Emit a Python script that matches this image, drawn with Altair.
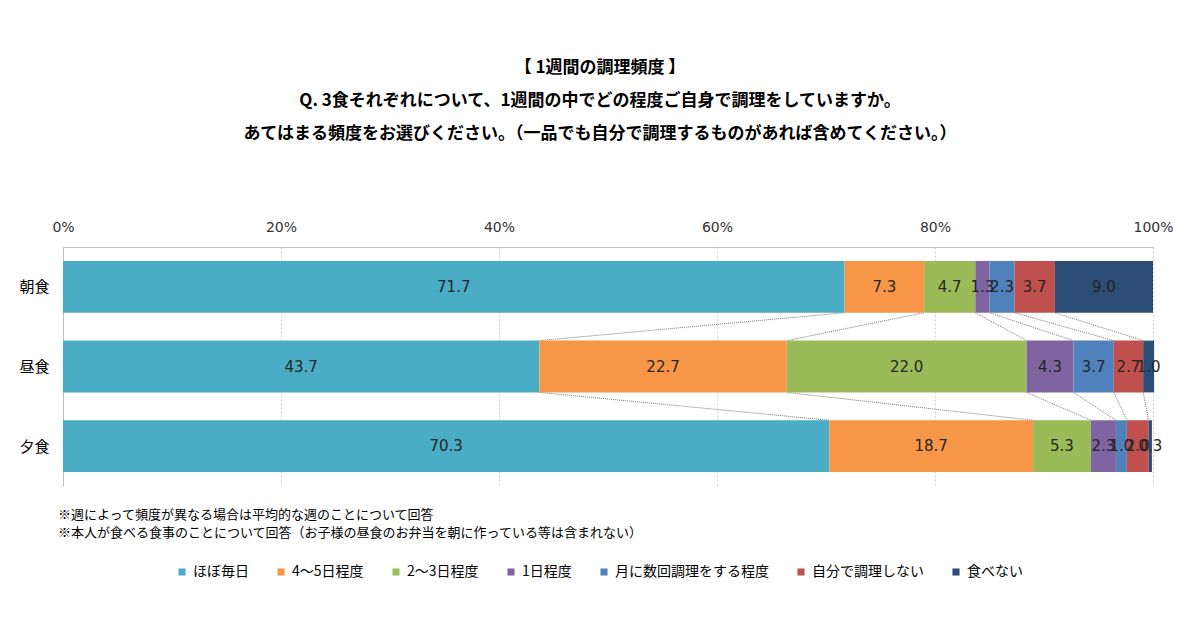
import altair as alt
import pandas as pd
import numpy as np

meals = ["朝食", "昼食", "夕食"]
categories = ["ほぼ毎日", "4～5日程度", "2～3日程度", "1日程度", "月に数回調理をする程度", "自分で調理しない", "食べない"]
colors = ["#4BACC6", "#F79646", "#9BBB59", "#8064A2", "#4F81BD", "#C0504D", "#2C4D75"]
breakfast = [71.7, 7.3, 4.7, 1.3, 2.3, 3.7, 9.0]
lunch = [43.7, 22.7, 22.0, 4.3, 3.7, 2.7, 1.0]
dinner = [70.3, 18.7, 5.3, 2.3, 1.0, 2.0, 0.3]
series = [breakfast, lunch, dinner]

title_lines = [
    "【 1週間の調理頻度 】",
    "Q. 3食それぞれについて、1週間の中でどの程度ご自身で調理をしていますか。",
    "あてはまる頻度をお選びください。（一品でも自分で調理するものがあれば含めてください。）",
]
notes = [
    "※週によって頻度が異なる場合は平均的な週のことについて回答",
    "※本人が食べる食事のことについて回答（お子様の昼食のお弁当を朝に作っている等は含まれない）",
]

HALF = 0.325
rows = []
for i, (m, vals) in enumerate(zip(meals, series)):
    for j, (c, v) in enumerate(zip(categories, vals)):
        rows.append({"meal": m, "row": i, "cat": c, "order": j, "value": v})
df = pd.DataFrame(rows)

# connectors between consecutive bars at the same cumulative boundary
con = []
for i in range(len(series) - 1):
    a = np.cumsum(series[i])
    b = np.cumsum(series[i + 1])
    for k in range(len(categories) - 1):
        con.append({"x": a[k], "x2": b[k], "y": i + HALF, "y2": i + 1 - HALF})
cdf = pd.DataFrame(con)

JP = "Noto Sans CJK JP"
NUM = "DejaVu Sans"

yscale = alt.Scale(domain=[-0.5, 2.5], reverse=True, nice=False, zero=False)
xscale = alt.Scale(domain=[0, 100], nice=False)

label_expr = "datum.value == 0 ? '朝食' : datum.value == 1 ? '昼食' : '夕食'"
xaxis = alt.Axis(orient="top", values=[0, 20, 40, 60, 80, 100],
                 labelExpr="datum.value + '%'", title=None, ticks=False,
                 labelFlush=False, labelPadding=13, labelFont=NUM, labelFontSize=14,
                 labelColor="#333333", domain=True, domainColor="#bfbfbf",
                 grid=True, gridColor="#d0d0d0", gridDash=[2, 2])
yaxis = alt.Axis(values=[0, 1, 2], labelExpr=label_expr, title=None,
                 ticks=False, labelPadding=14, labelFont=JP, labelFontSize=15,
                 labelColor="#000000", grid=False, domainColor="#bfbfbf")

base = alt.Chart(df).transform_window(
    end="sum(value)", groupby=["meal"], sort=[alt.SortField("order")], frame=[None, 0]
).transform_calculate(
    start="datum.end - datum.value",
    mid="(datum.start + datum.end) / 2",
    y0=f"datum.row - {HALF}",
    y1=f"datum.row + {HALF}",
)

bars = base.mark_bar(stroke=None).encode(
    x=alt.X("start:Q", scale=xscale, axis=xaxis),
    x2="end:Q",
    y=alt.Y("y0:Q", scale=yscale, axis=yaxis),
    y2="y1:Q",
    color=alt.Color("cat:N", scale=alt.Scale(domain=categories, range=colors),
                    sort=categories,
                    legend=alt.Legend(orient="none", legendX=112, legendY=318,
                                      direction="horizontal", title=None,
                                      symbolType="square", symbolSize=50,
                                      symbolStrokeWidth=0, labelFont=JP,
                                      labelFontSize=14, labelColor="#000000",
                                      columnPadding=25, labelOffset=4, columns=7)),
    order=alt.Order("order:Q"),
)

texts = base.mark_text(font=NUM, fontSize=15, color="#262626", baseline="middle").encode(
    x=alt.X("mid:Q", scale=xscale, axis=xaxis),
    y=alt.Y("row:Q", scale=yscale, axis=yaxis),
    text=alt.Text("value:Q", format=".1f"),
)

connectors = alt.Chart(cdf).mark_rule(color="#555555", strokeDash=[1, 1], strokeWidth=0.8).encode(
    x=alt.X("x:Q", scale=xscale, axis=xaxis),
    x2="x2:Q",
    y=alt.Y("y:Q", scale=yscale, axis=yaxis),
    y2="y2:Q",
)

note1 = alt.Chart(pd.DataFrame({"t": [notes[0]]})).mark_text(
    font=JP, fontSize=13, align="left", baseline="middle", color="#000000"
).encode(x=alt.value(-5), y=alt.value(268), text="t:N")
note2 = alt.Chart(pd.DataFrame({"t": [notes[1]]})).mark_text(
    font=JP, fontSize=13, align="left", baseline="middle", color="#000000"
).encode(x=alt.value(-5), y=alt.value(286), text="t:N")

chart = alt.layer(connectors, bars, texts, note1, note2).properties(
    width=1090,
    height=239,
    padding={"left": 55, "top": 239, "right": 39, "bottom": 127},
    autosize=alt.AutoSizeParams(type="none"),
    title=alt.TitleParams(text=title_lines, anchor="middle", frame="group",
                          font=JP, fontSize=17, fontWeight="bold", lineHeight=33,
                          color="#000000", offset=77, dx=-8),
).configure_view(stroke=None)

chart.save("out.html", embed_options={"renderer": "svg", "actions": False})
